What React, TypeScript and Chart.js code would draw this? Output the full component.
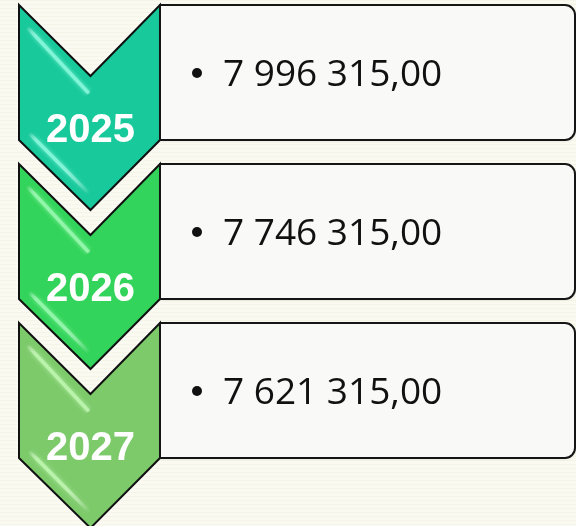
import React, { useEffect, useRef } from "react";
import { Chart, registerables } from "chart.js";

Chart.register(...registerables);

// ---- data ----
const years: string[] = ["2025", "2026", "2027"];
const amounts: number[] = [7996315.0, 7746315.0, 7621315.0];
const chevronColors: string[] = ["#18C99B", "#33D45B", "#7DCA6B"];
const glossColors: string[] = ["#86F7DA", "#96F8AD", "#BDF5AE"];

function formatAmount(v: number): string {
  const [intPart, dec] = v.toFixed(2).split(".");
  const grouped = intPart.replace(/\B(?=(\d{3})+(?!\d))/g, " ");
  return grouped + "," + dec;
}

const W = 576;
const H = 526;

const chevronPlugin = {
  id: "chevronPlugin",
  beforeDraw(chart: any) {
    const ctx = chart.ctx as CanvasRenderingContext2D;
    ctx.save();
    ctx.fillStyle = "#FAFAF1";
    ctx.fillRect(0, 0, chart.width, chart.height);
    ctx.strokeStyle = "rgba(225,225,200,0.22)";
    ctx.lineWidth = 1;
    for (let y = 0; y < chart.height; y += 4) {
      ctx.beginPath();
      ctx.moveTo(0, y + 0.5);
      ctx.lineTo(chart.width, y + 0.5);
      ctx.stroke();
    }
    ctx.restore();
  },
  afterDatasetsDraw(chart: any) {
    const ctx = chart.ctx as CanvasRenderingContext2D;
    const yScale = chart.scales.y;
    const area = chart.chartArea;
    const x0 = area.left;
    const x1 = area.left + 141;
    const mx = (x0 + x1) / 2 + 1;
    const bx0 = x1;
    const bx1 = area.right - 1;

    years.forEach((yr, i) => {
      const c = yScale.getPixelForValue(i);
      const top = c - 102;
      const notch = c - 31;
      const sideBottom = c + 33;
      const tip = c + 103;

      ctx.save();
      ctx.beginPath();
      ctx.moveTo(x0, top);
      ctx.lineTo(mx, notch);
      ctx.lineTo(x1, top);
      ctx.lineTo(x1, sideBottom);
      ctx.lineTo(mx, tip);
      ctx.lineTo(x0, sideBottom);
      ctx.closePath();
      ctx.shadowColor = "rgba(255,255,255,0.9)";
      ctx.shadowBlur = 6;
      ctx.fillStyle = chevronColors[i];
      ctx.fill();
      ctx.shadowColor = "transparent";
      ctx.shadowBlur = 0;
      ctx.lineWidth = 2;
      ctx.strokeStyle = "#111";
      ctx.lineJoin = "miter";
      ctx.stroke();

      // gloss stripes (bevel highlights)
      ctx.clip();
      const drawStripe = (ax: number, ay: number, bx: number, by: number, fadeStart: number) => {
        const g = ctx.createLinearGradient(ax, ay, bx, by);
        g.addColorStop(0, "rgba(255,255,255,0)");
        g.addColorStop(0.15, glossColors[i]);
        g.addColorStop(fadeStart, glossColors[i]);
        g.addColorStop(1, "rgba(255,255,255,0)");
        ctx.strokeStyle = g;
        ctx.shadowColor = glossColors[i];
        ctx.shadowBlur = 4;
        ctx.globalAlpha = 0.9;
        ctx.lineWidth = 3.5;
        ctx.lineCap = "butt";
        ctx.beginPath();
        ctx.moveTo(ax, ay);
        ctx.lineTo(bx, by);
        ctx.stroke();
        ctx.globalAlpha = 1;
        ctx.shadowBlur = 0;
        ctx.shadowColor = "transparent";
      };
      drawStripe(x0 + 8, top + 22, mx - 1, notch + 18, 0.97);
      drawStripe(x0 + 10, sideBottom - 7, mx - 1, tip - 16, 0.55);
      ctx.restore();

      // year label
      ctx.save();
      ctx.fillStyle = "#FFFFFF";
      ctx.font = "bold 40px 'Liberation Sans', Arial, sans-serif";
      ctx.textAlign = "center";
      ctx.textBaseline = "alphabetic";
      ctx.fillText(yr, mx, c + 35);
      ctx.restore();
    });

    years.forEach((yr, i) => {
      const c = yScale.getPixelForValue(i);
      const top = c - 102;
      const bottom = c + 33;
      const r = 10;
      ctx.save();
      ctx.beginPath();
      ctx.moveTo(bx0, top);
      ctx.lineTo(bx1 - r, top);
      ctx.arcTo(bx1, top, bx1, top + r, r);
      ctx.lineTo(bx1, bottom - r);
      ctx.arcTo(bx1, bottom, bx1 - r, bottom, r);
      ctx.lineTo(bx0, bottom);
      ctx.closePath();
      ctx.shadowColor = "rgba(0,0,0,0.12)";
      ctx.shadowBlur = 3;
      ctx.shadowOffsetY = 1;
      ctx.fillStyle = "#F9F9F8";
      ctx.fill();
      ctx.shadowColor = "transparent";
      ctx.lineWidth = 2;
      ctx.strokeStyle = "#151515";
      ctx.stroke();

      ctx.fillStyle = "#111111";
      ctx.beginPath();
      ctx.arc(bx0 + 37, c - 34, 5, 0, Math.PI * 2);
      ctx.fill();
      ctx.font = "37px 'Open Sans', 'Noto Sans', sans-serif";
      ctx.textAlign = "left";
      ctx.textBaseline = "alphabetic";
      ctx.fillText(formatAmount(amounts[i]), bx0 + 63, c - 21, 222);
      ctx.restore();
    });
  },
};

export default function App() {
  const canvasRef = useRef<HTMLCanvasElement | null>(null);

  useEffect(() => {
    const canvas = canvasRef.current;
    if (!canvas) return;
    const chart = new Chart(canvas, {
      type: "bar",
      data: {
        labels: years,
        datasets: [
          {
            label: "Amount",
            data: amounts,
            backgroundColor: "rgba(0,0,0,0)",
            borderWidth: 0,
          },
        ],
      },
      options: {
        indexAxis: "y",
        responsive: false,
        animation: false,
        devicePixelRatio: 1,
        layout: { padding: { left: 19, right: 0, top: 27.5, bottom: 21.5 } },
        plugins: {
          legend: { display: false },
          tooltip: { enabled: false },
          title: { display: false },
        },
        scales: {
          x: { display: false, min: 0, max: 9000000 },
          y: { display: false, offset: true },
        },
      },
      plugins: [chevronPlugin],
    });
    return () => chart.destroy();
  }, []);

  return (
    <div style={{ position: "fixed", left: 0, top: 0, width: W, height: H }}>
      <canvas ref={canvasRef} width={W} height={H} style={{ display: "block" }} />
    </div>
  );
}
